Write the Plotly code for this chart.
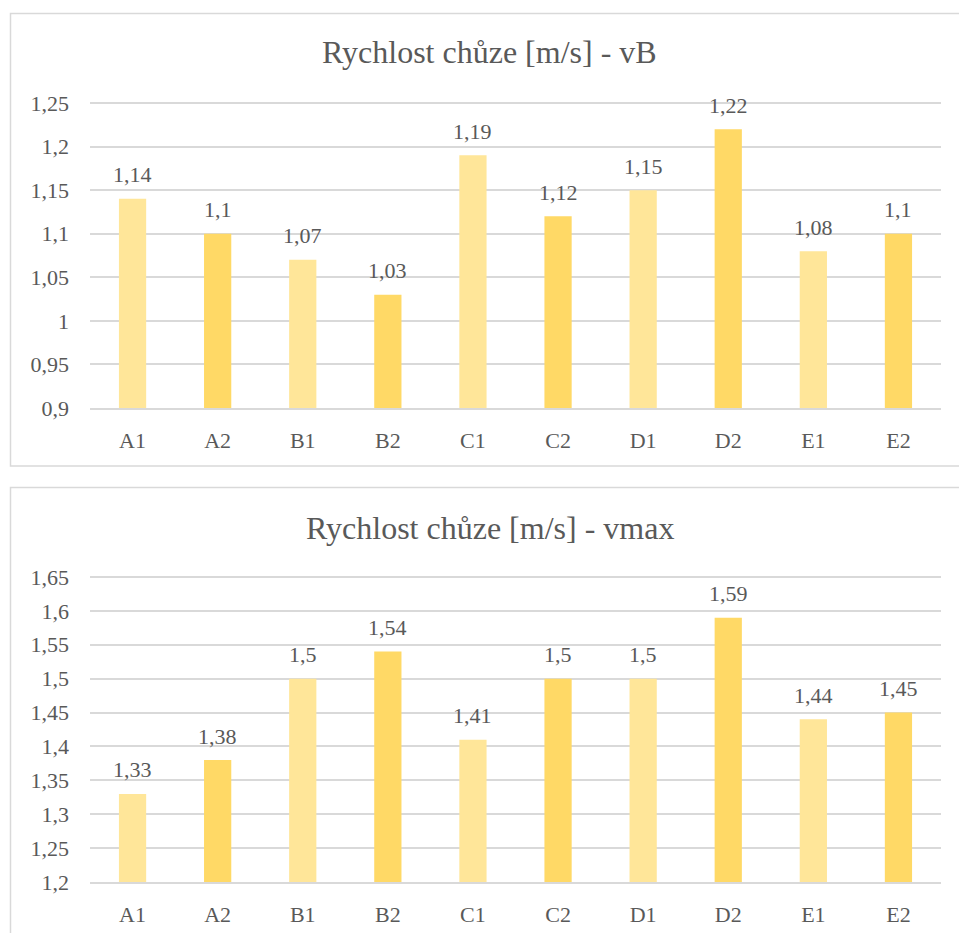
import plotly.graph_objects as go

# Walking speed per group, two measurements (vB and vmax)
categories = ["A1", "A2", "B1", "B2", "C1", "C2", "D1", "D2", "E1", "E2"]
speed_vb = [1.14, 1.10, 1.07, 1.03, 1.19, 1.12, 1.15, 1.22, 1.08, 1.10]
speed_vmax = [1.33, 1.38, 1.50, 1.54, 1.41, 1.50, 1.50, 1.59, 1.44, 1.45]

title_vb = "Rychlost chůze [m/s] - vB"
title_vmax = "Rychlost chůze [m/s] - vmax"

ticks_vb = [0.9, 0.95, 1.0, 1.05, 1.1, 1.15, 1.2, 1.25]
ticks_vmax = [1.2, 1.25, 1.3, 1.35, 1.4, 1.45, 1.5, 1.55, 1.6, 1.65]

W, H = 959, 933
FONT = "'Liberation Serif', 'Times New Roman', 'DejaVu Serif', serif"
TEXT = "#595959"
GRID = "#D9D9D9"
LIGHT = "#FFE699"
DARK = "#FFD966"


def fmt(v):
    s = ("%.2f" % v).rstrip("0").rstrip(".")
    return s.replace(".", ",")


def px_x(p):
    return p / W


def px_y(p):
    return 1 - p / H


def y_layout(lo, hi, px_lo, px_hi):
    # pad the top a few pixels so the top gridline is not clipped at the edge
    pad = 4
    per_px = (hi - lo) / (px_lo - px_hi)
    return [px_y(px_lo), px_y(px_hi - pad)], [lo, hi + pad * per_px]


bar_colors = [LIGHT if c.endswith("1") else DARK for c in categories]

fig = go.Figure()
fig.add_trace(go.Bar(x=categories, y=speed_vb, marker=dict(color=bar_colors, line=dict(width=0)),
                     width=0.32, xaxis="x", yaxis="y", hoverinfo="x+y"))
fig.add_trace(go.Bar(x=categories, y=speed_vmax, marker=dict(color=bar_colors, line=dict(width=0)),
                     width=0.32, xaxis="x2", yaxis="y2", hoverinfo="x+y"))

xdom = [px_x(90), px_x(941)]
tick_font = dict(family=FONT, size=22, color=TEXT)
y_common = dict(showgrid=True, gridcolor=GRID, gridwidth=1.5, zeroline=False, automargin=False,
                tickfont=tick_font, ticklabelstandoff=20, fixedrange=True)
x_common = dict(showgrid=False, showline=True, linecolor=GRID, linewidth=1.5, ticks="",
                ticklabelstandoff=12, tickfont=tick_font, automargin=False, fixedrange=True)

dom1, rng1 = y_layout(0.9, 1.25, 408, 103)
dom2, rng2 = y_layout(1.2, 1.65, 882, 577)

annotations = []
for vals, xa, ya in [(speed_vb, "x", "y"), (speed_vmax, "x2", "y2")]:
    for c, v in zip(categories, vals):
        annotations.append(dict(x=c, y=v, xref=xa, yref=ya, text=fmt(v), showarrow=False,
                                yanchor="middle", yshift=24, font=tick_font))

annotations.append(dict(x=px_x(489.5), y=px_y(52), xref="paper", yref="paper", text=title_vb,
                        showarrow=False, xanchor="center", yanchor="middle",
                        font=dict(family=FONT, size=32, color=TEXT)))
annotations.append(dict(x=px_x(489.5), y=px_y(528), xref="paper", yref="paper", text=title_vmax,
                        showarrow=False, xanchor="center", yanchor="middle",
                        font=dict(family=FONT, size=32, color=TEXT)))

shapes = [
    dict(type="rect", xref="paper", yref="paper", x0=px_x(10.5), x1=px_x(980),
         y0=px_y(466), y1=px_y(13.5), line=dict(color=GRID, width=1.5), layer="below"),
    dict(type="rect", xref="paper", yref="paper", x0=px_x(10.5), x1=px_x(980),
         y0=px_y(960), y1=px_y(487.5), line=dict(color=GRID, width=1.5), layer="below"),
]

fig.update_layout(
    width=W, height=H,
    margin=dict(l=0, r=0, t=0, b=0, autoexpand=False),
    paper_bgcolor="white", plot_bgcolor="white",
    showlegend=False,
    font=dict(family=FONT, color=TEXT),
    xaxis=dict(domain=xdom, anchor="y", **x_common),
    yaxis=dict(domain=dom1, anchor="x", range=rng1,
               tickvals=ticks_vb, ticktext=[fmt(t) for t in ticks_vb], **y_common),
    xaxis2=dict(domain=xdom, anchor="y2", **x_common),
    yaxis2=dict(domain=dom2, anchor="x2", range=rng2,
                tickvals=ticks_vmax, ticktext=[fmt(t) for t in ticks_vmax], **y_common),
    annotations=annotations,
    shapes=shapes,
)

fig.write_html("out.html")
